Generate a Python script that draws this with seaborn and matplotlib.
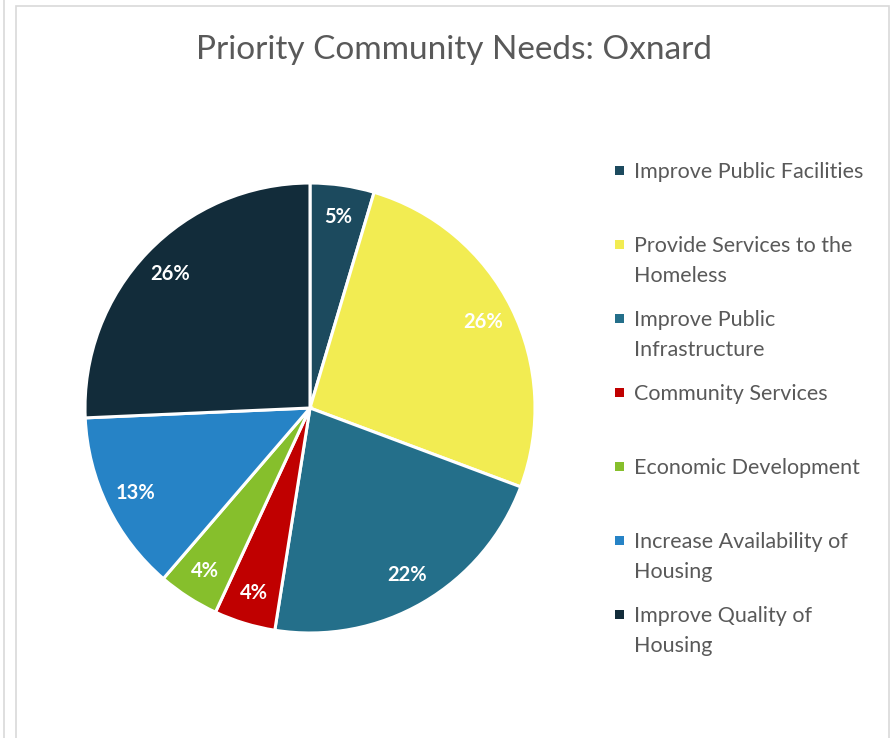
import seaborn as sns
import matplotlib.pyplot as plt
from matplotlib.patches import Rectangle
from matplotlib.lines import Line2D

# data (percent of responses)
needs = ["Improve Public Facilities", "Provide Services to the\nHomeless",
         "Improve Public\nInfrastructure", "Community Services",
         "Economic Development", "Increase Availability of\nHousing",
         "Improve Quality of\nHousing"]
shares = [4.6, 26.1, 21.8, 4.4, 4.4, 13.0, 25.7]
colors = ["#1C4A5E", "#F2EC52", "#246F8A", "#C00000", "#86BF2C", "#2683C6", "#122C3A"]

sns.set_theme(style="white")
plt.rcParams['font.family'] = ['Lato', 'DejaVu Sans']
pal = sns.color_palette(colors)

W, H = 893, 738
fig = plt.figure(figsize=(W / 100, H / 100), dpi=100)

# chart frame
fig.patches.append(Rectangle((16 / W, -0.01), (889 - 16) / W, (H - 6) / H + 0.01,
                             transform=fig.transFigure, fill=False,
                             edgecolor="#D9D9D9", linewidth=1.2))
fig.lines.append(Line2D([4 / W, 4 / W], [0, 1], transform=fig.transFigure,
                        color="#D9D9D9", linewidth=1.2))

cx, cy, r = 310, 408, 225
ax = fig.add_axes([(cx - r) / W, (H - cy - r) / H, 2 * r / W, 2 * r / H])
wedges, _, autotexts = ax.pie(shares, colors=pal, startangle=90, counterclock=False,
                              autopct="%.0f%%", pctdistance=0.86,
                              wedgeprops=dict(edgecolor="white", linewidth=2.2))
for t in autotexts:
    t.set_color("white")
    t.set_fontsize(14.5)
    t.set_fontweight("bold")
ax.set_xlim(-1, 1)
ax.set_ylim(-1, 1)
ax.set_aspect("equal")

fig.text(454 / W, 1 - 50 / H, "Priority Community Needs: Oxnard", ha="center", va="center",
         fontsize=24, color="#595959", fontweight="normal")

# legend (Excel-style even spacing)
for i, (lab, c) in enumerate(zip(needs, pal)):
    y = 170 + 74 * i
    fig.patches.append(Rectangle(((619 - 4.5) / W, 1 - (y + 4.5) / H), 9 / W, 9 / H,
                                 transform=fig.transFigure, facecolor=c, edgecolor="none"))
    fig.text(634 / W, 1 - (y - 8) / H, lab, ha="left", va="top", fontsize=15.5,
             color="#595959", linespacing=1.6)

fig.savefig("out.png", dpi=100)
